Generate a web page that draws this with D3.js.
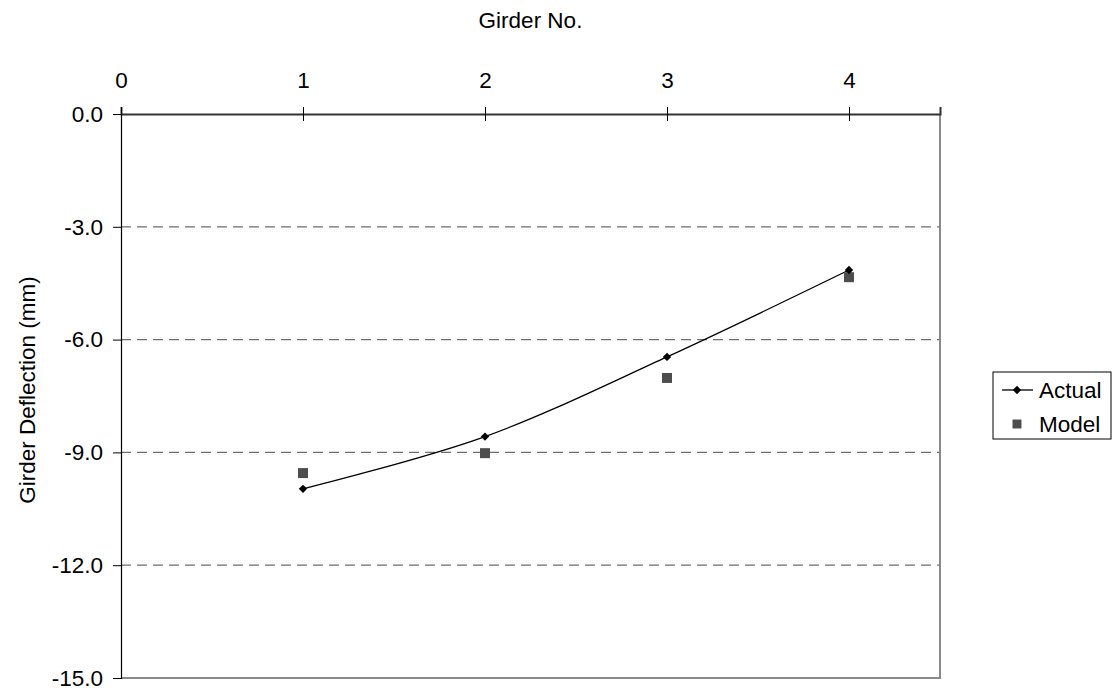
<!DOCTYPE html>
<html>
<head>
<meta charset="utf-8">
<script src="https://cdn.jsdelivr.net/npm/d3@7"></script>
<style>
  html, body { margin: 0; padding: 0; background: #fff; }
  svg { display: block; font-family: "Liberation Sans", Arial, sans-serif; }
</style>
</head>
<body>
<svg id="chart" width="1115" height="692"></svg>
<script>
// Girder numbers and measured / modelled deflections (mm)
const girders = [1, 2, 3, 4];
const actual = [-9.97, -8.58, -6.46, -4.15];
const model = [-9.55, -9.02, -7.02, -4.34];
const xTicks = [0, 1, 2, 3, 4];
const yTicks = [0, -3, -6, -9, -12, -15];
const seriesNames = ["Actual", "Model"];

const svg = d3.select("#chart");
const plot = { left: 121, right: 940, top: 114, bottom: 678 };
const fontSize = 22.5;

const x = d3.scaleLinear().domain([0, 4.5]).range([plot.left, plot.right]);
const y = d3.scaleLinear().domain([0, -15]).range([plot.top, plot.bottom]);

// dashed horizontal gridlines
svg.append("g")
  .selectAll("line")
  .data(yTicks.filter(v => v !== 0 && v !== -15))
  .join("line")
  .attr("x1", plot.left).attr("x2", plot.right)
  .attr("y1", d => y(d)).attr("y2", d => y(d))
  .attr("stroke", "#6e6e6e").attr("stroke-width", 1.2)
  .attr("stroke-dasharray", "10,6");

// plot frame: right and bottom edges
svg.append("path")
  .attr("d", `M${plot.right},${plot.top}V${plot.bottom}H${plot.left}`)
  .attr("fill", "none").attr("stroke", "#8a8a8a").attr("stroke-width", 2);

// top (x) axis
const xAxis = svg.append("g")
  .attr("transform", `translate(0,${y(0)})`)
  .call(d3.axisTop(x).tickValues(xTicks).tickFormat(d3.format("d")).tickSize(7).tickPadding(19));
xAxis.select(".domain").attr("stroke", "#333").attr("stroke-width", 2);
xAxis.selectAll(".tick line").attr("y2", 7).attr("y1", -7).attr("stroke", "#000");
xAxis.selectAll(".tick text")
  .attr("font-size", fontSize).attr("fill", "#000")
  .attr("font-family", "Liberation Sans, Arial, sans-serif");

// left (y) axis
const yAxis = svg.append("g")
  .attr("transform", `translate(${plot.left},0)`)
  .call(d3.axisLeft(y).tickValues(yTicks).tickFormat(d3.format(".1f")).tickSize(8).tickPadding(10));
yAxis.select(".domain").attr("stroke", "#000").attr("stroke-width", 1.2);
yAxis.selectAll(".tick line").attr("stroke", "#000");
yAxis.selectAll(".tick text")
  .attr("font-size", fontSize).attr("fill", "#000")
  .attr("font-family", "Liberation Sans, Arial, sans-serif")
  .text(d => d3.format(".1f")(d).replace("−", "-"));

// axis titles
svg.append("text")
  .attr("x", (plot.left + plot.right) / 2).attr("y", 28)
  .attr("text-anchor", "middle").attr("font-size", fontSize)
  .text("Girder No.");
svg.append("text")
  .attr("transform", `translate(35,${(plot.top + plot.bottom) / 2 - 6}) rotate(-90)`)
  .attr("text-anchor", "middle").attr("font-size", fontSize)
  .text("Girder Deflection (mm)");

// Actual: smoothed line with diamond markers
const line = d3.line()
  .x((d, i) => x(girders[i]))
  .y(d => y(d))
  .curve(d3.curveCatmullRom.alpha(0));
svg.append("path")
  .datum(actual)
  .attr("d", line)
  .attr("fill", "none").attr("stroke", "#000").attr("stroke-width", 1.3);

const diamond = d3.symbol().type(d3.symbolDiamond2).size(45);
const square = d3.symbol().type(d3.symbolSquare).size(100);

// Model: square markers only
svg.append("g")
  .selectAll("path")
  .data(model)
  .join("path")
  .attr("d", square)
  .attr("transform", (d, i) => `translate(${x(girders[i])},${y(d)})`)
  .attr("fill", "#4d4d4d");

svg.append("g")
  .selectAll("path")
  .data(actual)
  .join("path")
  .attr("d", diamond)
  .attr("transform", (d, i) => `translate(${x(girders[i])},${y(d)})`)
  .attr("fill", "#000");

// legend
const legend = svg.append("g").attr("transform", "translate(993,372)");
legend.append("rect")
  .attr("width", 118).attr("height", 67)
  .attr("fill", "#fff").attr("stroke", "#000").attr("stroke-width", 1);
const rows = legend.selectAll("g.row")
  .data(seriesNames)
  .join("g").attr("class", "row")
  .attr("transform", (d, i) => `translate(0,${18 + i * 34})`);
rows.filter((d, i) => i === 0).append("line")
  .attr("x1", 9).attr("x2", 40).attr("stroke", "#000").attr("stroke-width", 1.3);
rows.filter((d, i) => i === 0).append("path")
  .attr("d", diamond).attr("transform", "translate(24,0)").attr("fill", "#000");
rows.filter((d, i) => i === 1).append("path")
  .attr("d", d3.symbol().type(d3.symbolSquare).size(80)).attr("transform", "translate(24,0)")
  .attr("fill", "#4d4d4d");
rows.append("text")
  .attr("x", 46).attr("dy", "0.35em")
  .attr("font-size", fontSize)
  .text(d => d);
</script>
</body>
</html>
